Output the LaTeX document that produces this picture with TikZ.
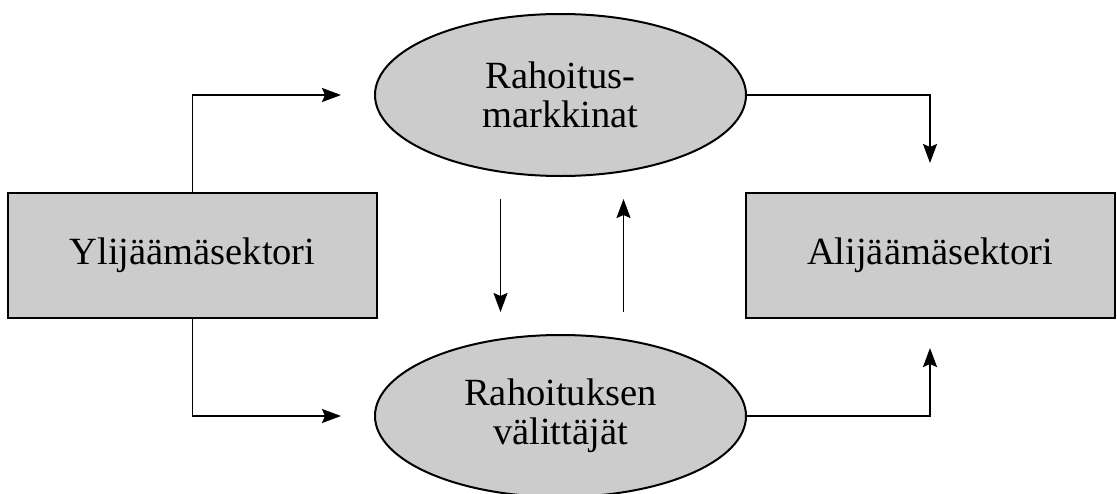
\documentclass[tikz,border=0pt]{standalone}
\usepackage{fontspec}
\setmainfont{Liberation Serif}
\usetikzlibrary{arrows.meta,shapes.geometric}
\definecolor{harmaa}{gray}{0.8}
\tikzset{
    sektori/.style = {draw, line width = 2pt, fill = harmaa, minimum width = 369pt, minimum height = 125pt, inner sep = 0pt},
    soikio/.style = {draw, ellipse, line width = 2pt, fill = harmaa, minimum width = 371pt, minimum height = 162pt, inner sep = 0pt, align = center},
    nuoli/.style = {line width = 1.9pt, -{Stealth[length = 19pt, width = 14pt, inset = 3pt]}}
}
\begin{document}
\begin{tikzpicture}[x = 1pt, y = -1pt, font = \fontsize{38.5}{39}\selectfont]
            \useasboundingbox (0, 0) rectangle (1117, 493);
            \node[sektori] (yli) at (192.5, 255.5) {Ylijäämäsektori};
            \node[sektori] (ali) at (930, 255.5) {Alijäämäsektori};
            \node[soikio] (markk) at (560.5, 95) {Rahoitus-\\markkinat};
            \node[soikio] (valit) at (560.5, 416) {Rahoituksen\\välittäjät};
            \draw[nuoli, shorten > = 33pt] (yli.north) |- (markk.west);
            \draw[nuoli, shorten > = 33pt] (yli.south) |- (valit.west);
            \draw[nuoli, shorten > = 29pt] (markk.east) -| (ali.north);
            \draw[nuoli, shorten > = 29pt] (valit.east) -| (ali.south);
            \draw[nuoli] ([xshift = -60pt, yshift = -22pt]markk.south) -- ([xshift = -60pt, yshift = 22pt]valit.north);
            \draw[nuoli] ([xshift = 63pt, yshift = 22pt]valit.north) -- ([xshift = 63pt, yshift = -22pt]markk.south);
        \end{tikzpicture}
\end{document}
